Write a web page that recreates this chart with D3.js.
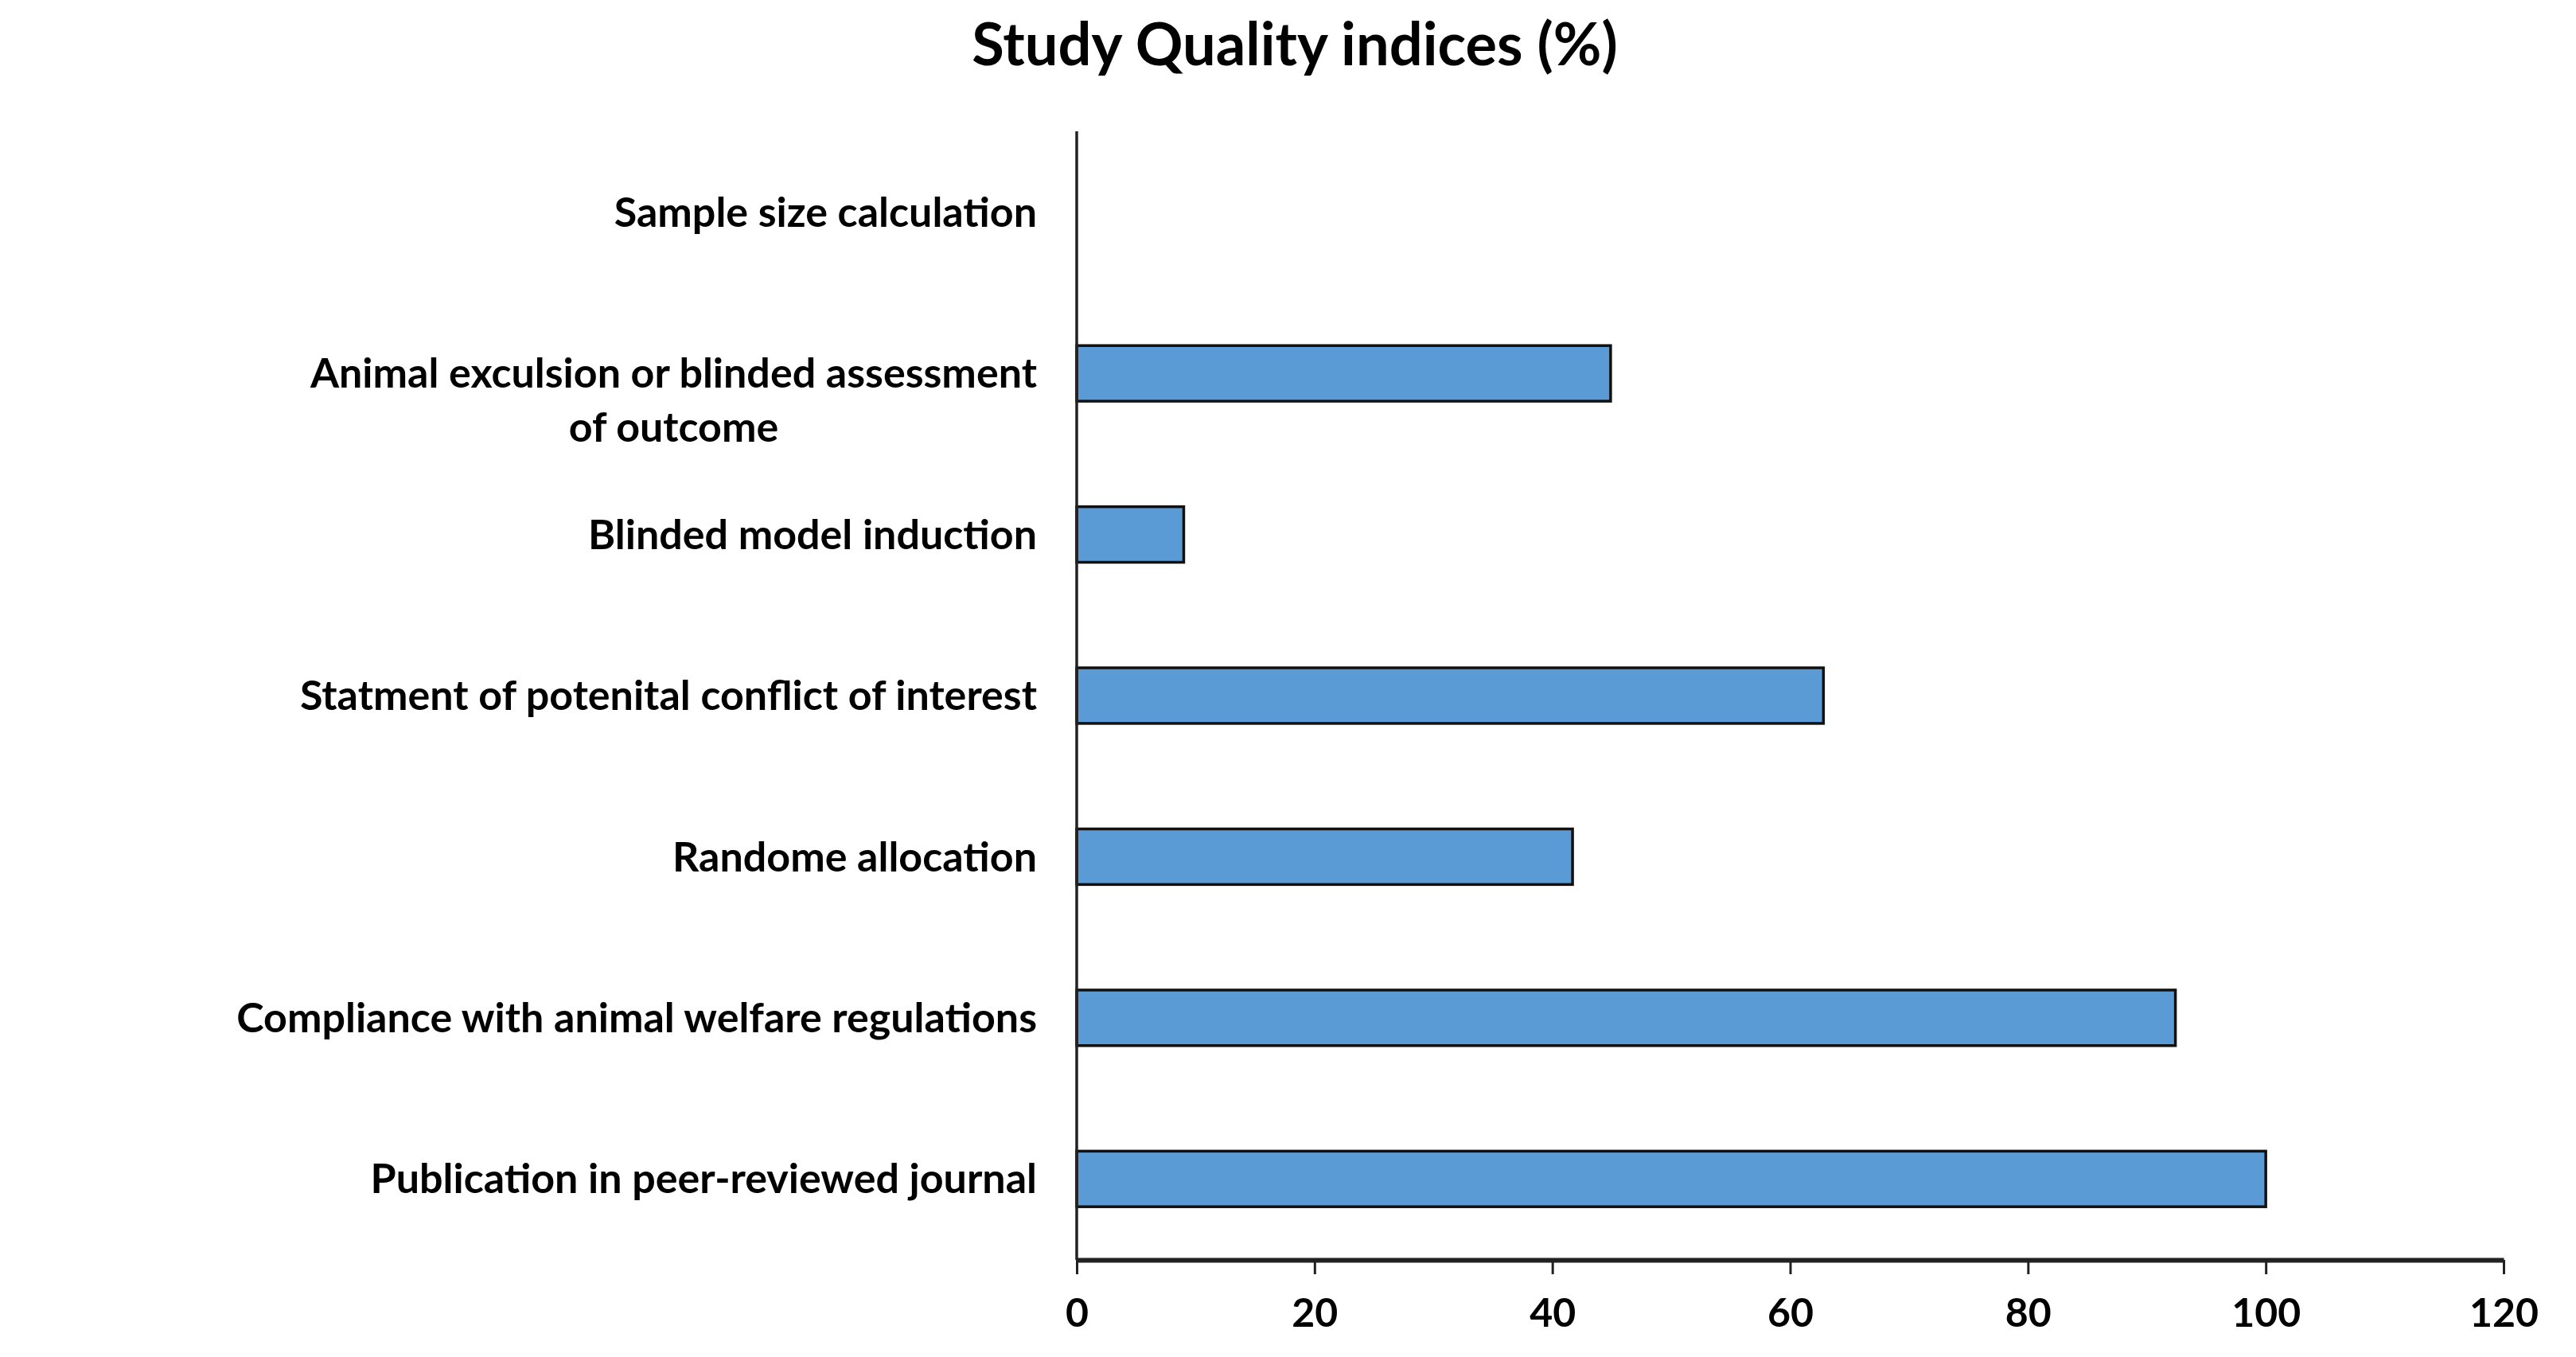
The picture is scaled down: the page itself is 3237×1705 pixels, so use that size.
<!DOCTYPE html>
<html>
<head>
<meta charset="utf-8">
<title>Study Quality indices</title>
<style>
  body { margin: 0; background: #fff; }
  text { font-family: Lato, "Open Sans", sans-serif; font-weight: bold; fill: #000; }
</style>
</head>
<body>
<div id="chart"></div>
<script src="https://cdn.jsdelivr.net/npm/d3@7"></script>
<script>
// categories from bottom to top
let categories = [
  'Publication in peer-reviewed journal',
  'Compliance with animal welfare regulations',
  'Randome allocation',
  'Statment of potenital conflict of interest',
  'Blinded model induction',
  'Animal exculsion or blinded assessment|of outcome',
  'Sample size calculation'
];
let values = [100, 92.4, 41.7, 62.8, 9, 44.9, 0];
let xTicks = [0, 20, 40, 60, 80, 100, 120];

let svgWidth = 3237, svgHeight = 1705;
let margin = {top: 165, right: 91, bottom: 122, left: 1353};
let width = svgWidth - margin.left - margin.right;
let height = svgHeight - margin.top - margin.bottom;

let svg = d3.select('#chart').append('svg')
  .attr('width', svgWidth)
  .attr('height', svgHeight);

svg.append('text')
  .attr('x', 1627)
  .attr('y', 82)
  .attr('text-anchor', 'middle')
  .style('font-size', '74px')
  .text('Study Quality indices (%)');

let g = svg.append('g').attr('transform', `translate(${margin.left},${margin.top})`);

let x = d3.scaleLinear().domain([0, 120]).range([0, width]);
let y = d3.scaleBand()
  .domain(categories.slice().reverse())
  .range([0, height])
  .paddingInner(0.655)
  .paddingOuter(0.33);

g.selectAll('rect.bar')
  .data(categories.map((c, i) => ({c: c, v: values[i]})).filter(d => d.v > 0))
  .enter().append('rect')
  .attr('class', 'bar')
  .attr('x', 0)
  .attr('y', d => y(d.c))
  .attr('width', d => x(d.v))
  .attr('height', y.bandwidth())
  .attr('fill', '#5B9BD5')
  .attr('stroke', '#111')
  .attr('stroke-width', 3.5);

// category labels
categories.forEach(function(c) {
  let lines = c.split('|');
  let cy = y(c) + y.bandwidth() / 2;
  let t = g.append('text')
    .attr('x', -50)
    .attr('y', cy)
    .attr('dy', '0.35em')
    .attr('text-anchor', 'end')
    .style('font-size', '52px')
    .text(lines[0]);
  if (lines.length > 1) {
    let w = t.node().getComputedTextLength();
    g.append('text')
      .attr('x', -50 - w / 2)
      .attr('y', cy + 68)
      .attr('dy', '0.35em')
      .attr('text-anchor', 'middle')
      .style('font-size', '52px')
      .text(lines[1]);
  }
});

// y axis line
g.append('line')
  .attr('x1', 0).attr('x2', 0)
  .attr('y1', 0).attr('y2', height)
  .attr('stroke', '#222')
  .attr('stroke-width', 3.5);

// x axis
let xAxis = d3.axisBottom(x).tickValues(xTicks).tickSize(18).tickPadding(30).tickSizeOuter(0);
let ax = g.append('g')
  .attr('transform', `translate(0,${height})`)
  .call(xAxis);
ax.select('.domain').attr('stroke', '#222').attr('stroke-width', 6);
ax.selectAll('.tick line').attr('stroke', '#222').attr('stroke-width', 3);
ax.selectAll('.tick text')
  .style('font-size', '50px')
  .style('font-family', 'Lato, sans-serif')
  .style('font-weight', 'bold')
  .attr('fill', '#000');
</script>
</body>
</html>
